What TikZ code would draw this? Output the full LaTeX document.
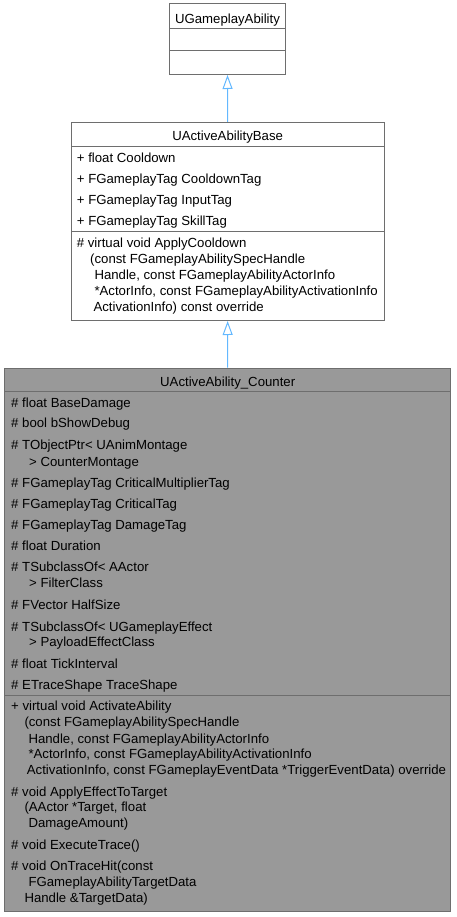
\documentclass[tikz,border=0pt]{standalone}
\usepackage{fontspec}
\setmainfont{Liberation Sans}
\usetikzlibrary{arrows.meta}
\definecolor{boxgray}{HTML}{6E6E6E}
\definecolor{fillgray}{HTML}{999999}
\definecolor{edgeblue}{HTML}{63B8FF}
\begin{document}
\begin{tikzpicture}[x=1pt,y=-1pt,
  box/.style={draw=boxgray, line width=1pt, inner sep=0pt},
  divline/.style={draw=boxgray, line width=1pt},
  txt/.style={anchor=base west, inner sep=0pt, font=\fontsize{13.2}{15}\selectfont},
  ttl/.style={anchor=base, inner sep=0pt, font=\fontsize{13.2}{15}\selectfont},
  inh/.style={draw=edgeblue, line width=1pt, -{Triangle[open, length=14pt, width=10pt]}}]
\useasboundingbox (0,0) rectangle (456,917);

% ---------- UGameplayAbility ----------
\node[box, fill=white, minimum width=116.4pt, minimum height=70.5pt] (ga) at (227.5,39.25) {};
\draw[divline] (169.3,29) -- (285.7,29);
\draw[divline] (169.3,50.7) -- (285.7,50.7);
\node[ttl] (gat) at (227.5,23.5) {UGameplayAbility};

% ---------- UActiveAbilityBase ----------
\node[box, fill=white, minimum width=313.3pt, minimum height=198pt] (base) at (227.65,221.5) {};
\draw[divline] (71,146.7) -- (384.3,146.7);
\draw[divline] (71,231.7) -- (384.3,231.7);
\node[ttl] (bt) at (227.65,140.2) {UActiveAbilityBase};
\node[txt] (ba1) at (76.7,162.2) {+ float Cooldown};
\node[txt] (ba2) at (76.7,183.5) {+ FGameplayTag CooldownTag};
\node[txt] (ba3) at (76.7,204.5) {+ FGameplayTag InputTag};
\node[txt] (ba4) at (76.7,225.5) {+ FGameplayTag SkillTag};
\node[txt] (bm1) at (76.7,247.2) {\# virtual void ApplyCooldown};
\node[txt] (bm2) at (90,263.2) {(const FGameplayAbilitySpecHandle};
\node[txt] (bm3) at (94.3,279.2) {Handle, const FGameplayAbilityActorInfo};
\node[txt] (bm4) at (94.3,295.2) {*ActorInfo, const FGameplayAbilityActivationInfo};
\node[txt] (bm5) at (93.3,311.2) {ActivationInfo) const override};

% ---------- UActiveAbility_Counter ----------
\node[box, fill=fillgray, minimum width=446pt, minimum height=543.7pt] (cnt) at (227.7,639.85) {};
\draw[divline] (4.7,391.7) -- (450.7,391.7);
\draw[divline] (4.7,695.7) -- (450.7,695.7);
\node[ttl] (ct) at (227.7,386.2) {UActiveAbility\_Counter};
\node[txt] (ca1) at (11,407.2) {\# float BaseDamage};
\node[txt] (ca2) at (11,427.8) {\# bool bShowDebug};
\node[txt] (ca3) at (11,449.5) {\# TObjectPtr< UAnimMontage};
\node[txt] (ca3b) at (29,466.2) {> CounterMontage};
\node[txt] (ca4) at (11,487.2) {\# FGameplayTag CriticalMultiplierTag};
\node[txt] (ca5) at (11,508.5) {\# FGameplayTag CriticalTag};
\node[txt] (ca6) at (11,529.5) {\# FGameplayTag DamageTag};
\node[txt] (ca7) at (11,550.5) {\# float Duration};
\node[txt] (ca8) at (11,571.8) {\# TSubclassOf< AActor};
\node[txt] (ca8b) at (29,587.8) {> FilterClass};
\node[txt] (ca9) at (11,609.5) {\# FVector HalfSize};
\node[txt] (ca10) at (11,631.2) {\# TSubclassOf< UGameplayEffect};
\node[txt] (ca10b) at (29,646.8) {> PayloadEffectClass};
\node[txt] (ca11) at (11,668.5) {\# float TickInterval};
\node[txt] (ca12) at (11,689.8) {\# ETraceShape TraceShape};

\node[txt] (cm1) at (11,710.5) {+ virtual void ActivateAbility};
\node[txt] (cm1b) at (24.3,726.8) {(const FGameplayAbilitySpecHandle};
\node[txt] (cm1c) at (28.3,743.2) {Handle, const FGameplayAbilityActorInfo};
\node[txt] (cm1d) at (28.3,758.5) {*ActorInfo, const FGameplayAbilityActivationInfo};
\node[txt] (cm1e) at (26.7,774.8) {ActivationInfo, const FGameplayEventData *TriggerEventData) override};
\node[txt] (cm2) at (11,796.2) {\# void ApplyEffectToTarget};
\node[txt] (cm2b) at (24.3,811.8) {(AActor *Target, float};
\node[txt] (cm2c) at (28.3,827.8) {DamageAmount)};
\node[txt] (cm3) at (11,849.8) {\# void ExecuteTrace()};
\node[txt] (cm4) at (11,870.5) {\# void OnTraceHit(const};
\node[txt] (cm4b) at (28.3,886.8) {FGameplayAbilityTargetData};
\node[txt] (cm4c) at (24.3,902.8) {Handle \&TargetData)};

% ---------- inheritance ----------
\draw[inh] (base.north) -- (ga.south);
\draw[inh] (cnt.north) -- (base.south);
\end{tikzpicture}
\end{document}
